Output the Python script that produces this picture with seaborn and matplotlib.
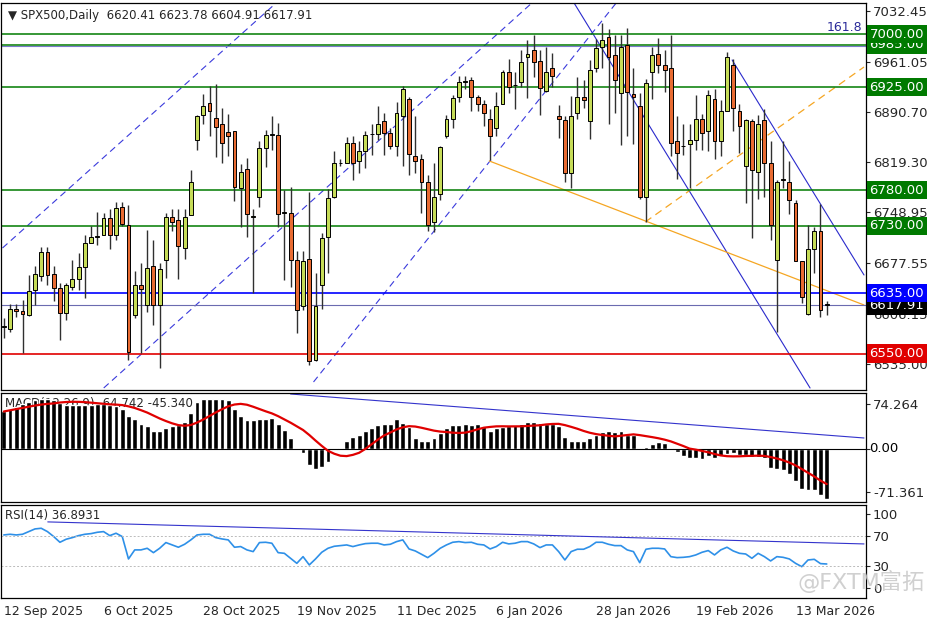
import numpy as np
import pandas as pd
import seaborn as sns
import matplotlib
matplotlib.use("Agg")
import matplotlib.pyplot as plt

sns.set_style("white")
plt.rcParams['font.family'] = ['DejaVu Sans', 'Noto Sans CJK SC']

opens = [6588,6584,6613,6610,6605,6640,6660,6693,6662,6642,6607,6644,6655,6672,6706,6714,6717,6741,6717,6756,
         6731,6605,6647,6619,6673,6619,6682,6742,6738,6699,6745,6851,6886,6903,6882,6873,6862,6863,6783,6810,
         6743,6770,6840,6858,6858,6748,6748,6682,6617,6683,6541,6646,6714,6770,6818,6819,6847,6821,6836,6859,
         6859,6878,6861,6843,6885,6908,6828,6824,6792,6736,6775,6856,6881,6912,6932,6935,6912,6902,6880,6867,
         6902,6946,6928,6933,6967,6977,6962,6920,6952,6884,6879,6805,6889,6911,6877,6952,6982,6996,6971,6917,
         6985,6916,6899,6770,6947,6972,6957,6952,6850,6842,6845,6851,6881,6863,6908,6850,6892,6957,6891,6814,
         6878,6806,6879,6819,6682,6795,6792,6762,6680,6606,6697,6722,6620.41]
highs = [6600,6620,6620,6626,6661,6673,6700,6700,6673,6650,6650,6682,6692,6717,6730,6749,6748,6753,6764,6764,
         6759,6667,6678,6724,6710,6678,6748,6753,6753,6753,6809,6886,6916,6927,6929,6896,6887,6863,6817,6825,
         6753,6850,6865,6885,6875,6780,6785,6694,6694,6777,6663,6720,6782,6836,6824,6855,6856,6849,6864,6874,
         6899,6889,6867,6904,6927,6912,6884,6831,6802,6818,6842,6886,6914,6941,6941,6940,6914,6907,6894,6919,
         6950,6965,6947,6978,6992,6999,6978,6982,6973,6900,6885,6913,6939,6935,6964,6993,7015,7007,6999,6999,
         7008,6952,6917,6936,6982,6994,6978,6999,6884,6873,6873,6914,6888,6921,6922,6907,6975,6965,6902,6881,
         6880,6886,6894,6849,6795,6849,6821,6767,6680,6731,6729,6761,6623.78]
lows = [6572,6581,6602,6551,6603,6619,6652,6646,6624,6569,6598,6640,6640,6628,6706,6703,6717,6697,6710,6730,
        6541,6600,6551,6608,6591,6530,6656,6722,6655,6683,6745,6837,6874,6857,6827,6819,6828,6765,6729,6714,
        6636,6756,6813,6837,6729,6654,6644,6579,6612,6534,6539,6613,6663,6769,6814,6818,6795,6805,6811,6830,
        6851,6830,6838,6828,6814,6802,6804,6748,6722,6721,6767,6853,6867,6905,6922,6891,6891,6871,6822,6856,
        6902,6917,6894,6925,6910,6939,6886,6919,6925,6853,6791,6783,6881,6896,6852,6947,6952,6874,6889,6844,
        6856,6845,6768,6736,6908,6945,6919,6828,6796,6829,6783,6837,6837,6836,6824,6828,6891,6864,6832,6762,
        6713,6768,6771,6710,6580,6783,6747,6680,6621,6605,6663,6602,6604.91]
closes = [6589,6613,6610,6606,6638,6662,6693,6661,6642,6607,6646,6655,6672,6706,6714,6715,6741,6717,6755,6733,
          6552,6646,6641,6671,6619,6669,6742,6736,6701,6743,6792,6885,6899,6892,6869,6846,6857,6785,6806,6746,
          6743,6840,6858,6858,6746,6748,6682,6612,6681,6539,6617,6713,6769,6819,6819,6847,6818,6835,6858,6859,
          6874,6860,6843,6889,6922,6831,6821,6792,6731,6770,6841,6881,6910,6932,6934,6912,6902,6889,6856,6899,
          6947,6925,6928,6961,6972,6961,6924,6947,6941,6880,6804,6884,6911,6907,6950,6981,6991,6968,6935,6982,
          6919,6911,6770,6931,6971,6957,6950,6847,6833,6842,6851,6881,6861,6914,6849,6891,6967,6896,6871,6879,
          6808,6874,6819,6731,6791,6795,6767,6681,6630,6697,6722,6612,6617.91]

macd = [61.9,65.9,69.8,74.3,77.1,81.1,82.8,82.8,81.1,75.4,73.2,73.2,73.2,73.2,73.2,74.3,74.3,73.2,71.5,65.9,
        54.6,49.0,40.5,37.7,30.4,30.4,34.9,37.7,39.4,45.0,60.2,77.1,82.8,82.8,82.8,82.8,81.1,65.9,54.6,47.3,
        47.3,49.0,49.0,51.8,41.7,32.1,18.0,0.5,-7.3,-27.0,-33.8,-29.8,-21.4,-1.7,2.3,12.4,19.1,23.6,30.4,34.9,
        39.4,40.5,41.7,49.0,43.4,36.0,18.0,12.4,13.5,18.0,26.5,34.9,39.4,39.4,40.5,39.4,40.5,37.7,29.3,34.9,
        36.0,37.7,39.4,41.7,45.0,45.0,43.4,41.7,41.7,37.7,19.1,13.5,13.5,12.4,18.0,23.6,28.2,30.4,28.2,29.3,
        23.6,23.6,1.1,3.9,7.9,11.3,9.6,2.3,-4.5,-11.3,-14.6,-14.6,-15.8,-11.3,-14.6,-11.3,-9.0,-7.3,-10.1,-10.1,
        -12.9,-12.9,-14.6,-31.5,-32.7,-35.5,-41.1,-52.3,-65.3,-67.6,-67.6,-76.6,-82.2]

rsi = [71.6,72.5,71.6,72.5,76.1,79.7,80.6,76.1,69.4,61.7,65.8,68.0,70.7,72.5,73.4,75.2,76.1,70.7,73.9,69.4,
       39.2,51.4,51.4,53.6,47.7,53.6,61.3,58.1,55.0,59.0,64.9,71.6,72.5,72.5,68.0,66.2,64.9,55.0,55.9,51.4,
       49.1,61.3,61.7,60.4,47.7,46.8,40.1,33.3,42.3,31.1,39.2,48.2,53.6,56.3,57.2,58.1,55.9,58.1,59.9,60.4,
       60.4,58.1,59.0,62.6,64.9,52.7,50.0,45.5,41.0,46.8,53.6,58.1,61.7,62.6,61.3,61.7,59.0,58.1,52.7,55.9,
       61.7,59.5,60.4,62.6,62.6,59.5,54.5,58.1,58.1,49.1,37.8,49.1,52.3,52.3,55.9,61.7,61.7,59.0,57.2,57.2,
       51.4,49.1,34.2,52.3,53.6,53.6,52.7,42.3,41.0,41.4,42.3,44.6,48.2,50.5,44.6,51.4,55.0,50.0,46.8,45.9,
       40.1,46.8,42.3,36.5,42.3,41.4,39.2,33.3,28.8,37.8,38.7,32.9,32.4]

date_idx = [0, 16, 32, 47, 63, 79, 95, 111, 127]
date_labels = ["12 Sep 2025", "6 Oct 2025", "28 Oct 2025", "19 Nov 2025", "11 Dec 2025",
               "6 Jan 2026", "28 Jan 2026", "19 Feb 2026", "13 Mar 2026"]

levels = [7000.00, 6985.00, 6925.00, 6780.00, 6730.00]
support_blue = 6635.00
support_red = 6550.00
last_price = 6617.91
price_ticks = [7032.45, 6961.05, 6890.70, 6819.30, 6748.95, 6677.55, 6606.15, 6535.00]

W, H = 936, 624
fig = plt.figure(figsize=(W/100, H/100), dpi=100)
def ax_at(x0, y0, x1, y1):
    return fig.add_axes([x0/W, 1 - y1/H, (x1-x0)/W, (y1-y0)/H])

ax = ax_at(1, 3, 866, 390)
axm = ax_at(1, 393, 866, 502)
axr = ax_at(1, 505, 866, 598)

n = len(closes)
df = pd.DataFrame({"i": np.arange(n), "o": opens, "h": highs, "l": lows, "c": closes,
                   "macd": macd, "rsi": rsi})
df["signal"] = df["macd"].rolling(9, min_periods=1).mean()

XL = (-0.45, 138.3)
px = lambda x: (x - 3) / 6.24
py = lambda y: 7032.45 - (y - 11) * 1.408

for (xa, ya, xb, yb) in [(1.7, 248, 277, 1.7), (103, 388, 533, 1.7), (313, 382, 617, 1.7)]:
    ax.plot([px(xa), px(xb)], [py(ya), py(yb)], color="#3a3adc", lw=0.8, ls=(0, (6, 4)))
for (xa, ya, xb, yb) in [(573, 1.7, 810, 388), (732, 60, 864, 275)]:
    ax.plot([px(xa), px(xb)], [py(ya), py(yb)], color="#2a2acc", lw=0.8)
ax.plot([px(489), px(864)], [py(161), py(305)], color="#f5a623", lw=0.9)
ax.plot([px(645), px(864)], [py(222), py(67)], color="#f5a623", lw=0.9, ls=(0, (6, 4)))

for lv in levels:
    ax.axhline(lv, color="#007a00", lw=1.1)
ax.axhline(6983.5, color="#7a7acc", lw=0.8)
ax.axhline(support_blue, color="#0000ff", lw=1.2)
ax.axhline(last_price, color="#6b6bb0", lw=0.8)
ax.axhline(support_red, color="#e00000", lw=1.2)
ax.text(px(862), 7000, "161.8", color="#2a2a99", fontsize=9, ha="right", va="bottom")

bull = df["c"] >= df["o"]
ax.vlines(df["i"], df["l"], df["h"], color="#303030", lw=1.0, zorder=3)
bot = np.minimum(df["o"], df["c"])
hgt = np.maximum(np.abs(df["c"] - df["o"]), 0.8)
ax.bar(df["i"][bull], hgt[bull], bottom=bot[bull], width=0.62, color="#c6dc58",
       edgecolor="black", lw=0.7, zorder=4)
ax.bar(df["i"][~bull], hgt[~bull], bottom=bot[~bull], width=0.62, color="#e86b32",
       edgecolor="black", lw=0.7, zorder=4)
ax.set_xlim(*XL)
ax.set_ylim(6498.8, 7043.7)
ax.yaxis.tick_right()
ax.set_yticks(price_ticks)
ax.set_yticklabels([f"{t:.2f}" for t in price_ticks], fontsize=9.5)
ax.tick_params(axis="y", length=3, pad=2)
ax.set_xticks([])
ax.text(0.008, 0.985, "▼ SPX500,Daily  6620.41 6623.78 6604.91 6617.91", transform=ax.transAxes,
        fontsize=8.5, va="top", ha="left")

def tag(a, y, txt, bg, fg="white"):
    a.text(1.004, y, txt, transform=a.get_yaxis_transform(), fontsize=9.5, color=fg,
           va="center", ha="left", bbox=dict(boxstyle="square,pad=0.2", fc=bg, ec="none"), zorder=10)
tag(ax, 6985.00, "6985.00", "#007a00")
tag(ax, 7000.00, "7000.00", "#007a00")
tag(ax, 6925.00, "6925.00", "#007a00")
tag(ax, 6780.00, "6780.00", "#007a00")
tag(ax, 6730.00, "6730.00", "#007a00")
tag(ax, last_price, "6617.91", "black")
tag(ax, support_blue, "6635.00", "#0000ff")
tag(ax, support_red, "6550.00", "#e00000")

# MACD
axm.bar(df["i"], df["macd"], width=0.78, color="black", zorder=2)
sns.lineplot(data=df, x="i", y="signal", ax=axm, color="#e00000", lw=1.6, zorder=3)
axm.axhline(0, color="black", lw=0.8)
axm.plot([px(290), px(864)], [(449-394)*1.65, (449-438)*1.65], color="#3333cc", lw=0.8)
axm.set_xlim(*XL)
axm.set_ylim(-87.5, 92.4)
axm.yaxis.tick_right()
axm.set_yticks([74.264, 0.0, -71.361])
axm.set_yticklabels(["74.264", "", "-71.361"], fontsize=9.5)
axm.tick_params(axis="y", length=3, pad=2)
axm.text(1.004, 0, "0.00", transform=axm.get_yaxis_transform(), fontsize=9.5, color="black",
         va="center", ha="left", zorder=10)
axm.set_xticks([])
axm.set_xlabel(""); axm.set_ylabel("")
axm.text(0.005, 0.96, "MACD(12,26,9) -64.742 -45.340", transform=axm.transAxes, fontsize=8.5,
         va="top", ha="left", zorder=1)

# RSI
sns.lineplot(data=df, x="i", y="rsi", ax=axr, color="#2e90e8", lw=1.2)
for lv in (70, 30):
    axr.axhline(lv, color="#bbbbbb", lw=0.7, ls=(0, (2, 2)))
axr.plot([px(47), px(864)], [(588-522)/0.74, (588-544)/0.74], color="#3333cc", lw=0.8)
axr.set_xlim(*XL)
axr.set_ylim(-13.5, 112)
axr.yaxis.tick_right()
axr.set_yticks([100, 70, 30, 0])
axr.set_yticklabels(["100", "70", "30", "0"], fontsize=9.5)
axr.tick_params(axis="y", length=3, pad=2)
axr.set_xticks(date_idx)
axr.set_xticklabels(date_labels, fontsize=9, ha="left")
axr.tick_params(axis="x", length=3, pad=2)
axr.set_xlabel(""); axr.set_ylabel("")
axr.text(0.005, 0.96, "RSI(14) 36.8931", transform=axr.transAxes, fontsize=8.5, va="top", ha="left")
fig.text(925/W, 1 - 581/H, "@FXTM富拓", fontsize=16, color="#c8c8c8",
         ha="right", va="center", alpha=0.85, zorder=0)

for a in (ax, axm, axr):
    for s in a.spines.values():
        s.set_color("black"); s.set_linewidth(0.9)

fig.savefig("out.png", dpi=100)
